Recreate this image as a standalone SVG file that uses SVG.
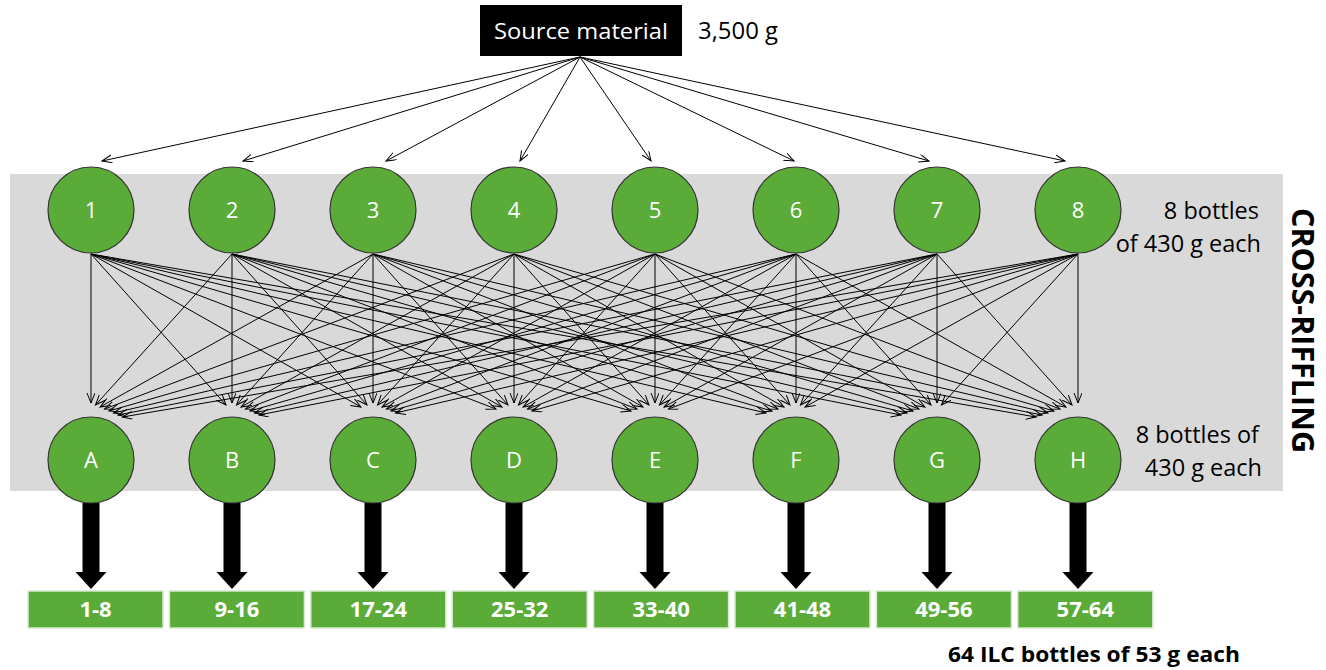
<svg xmlns="http://www.w3.org/2000/svg" width="1326" height="670" viewBox="0 0 1326 670">
<defs>
<style>
.bg{fill:#d9d9d9}
.node{fill:#5aab37;stroke:#333;stroke-width:1.2}
.lbl{font-family:"Open Sans","Liberation Sans",sans-serif;font-size:22px;fill:#fff;text-anchor:middle}
.txt{font-family:"Open Sans","Liberation Sans",sans-serif;font-size:23.5px;fill:#000}
.box{fill:#5aab37;stroke:#d6ebcb;stroke-width:1.5}
.boxt{font-family:"Open Sans","Liberation Sans",sans-serif;font-size:22px;font-weight:bold;fill:#fff;text-anchor:middle}
.bold{font-family:"Open Sans","Liberation Sans",sans-serif;font-weight:bold;fill:#000}
.c{fill:none;stroke:#000;stroke-width:1}
.thick{fill:#000}
</style>
<marker id="ah" markerUnits="userSpaceOnUse" markerWidth="12" markerHeight="10" refX="10" refY="4" orient="auto">
<path d="M0,0 L10,4 L0,8" fill="none" stroke="#000" stroke-width="1"/>
</marker>
<path id="big" d="M-8.5,0 H8.5 V69 H15.5 L0,86 L-15.5,69 H-8.5 Z"/>
</defs>
<rect class="bg" x="10" y="174" width="1273" height="317"/>

<g id="connectors">
<g id="from-source" marker-end="url(#ah)">
<path class="c" d="M580,57 L102,161"/>
<path class="c" d="M580,57 L243,161"/>
<path class="c" d="M580,57 L386,161"/>
<path class="c" d="M580,57 L520,161"/>
<path class="c" d="M580,57 L651,161"/>
<path class="c" d="M580,57 L794,161"/>
<path class="c" d="M580,57 L929,161"/>
<path class="c" d="M580,57 L1065,161"/>
</g>
<g id="riffle" marker-end="url(#ah)">
<path class="c" d="M91,254 L91,403"/>
<path class="c" d="M232,254 L95.5,405"/>
<path class="c" d="M373,254 L100,407"/>
<path class="c" d="M514,254 L104.5,409"/>
<path class="c" d="M655,254 L109,411"/>
<path class="c" d="M796,254 L113.5,413"/>
<path class="c" d="M937,254 L118,415"/>
<path class="c" d="M1078,254 L122.5,417"/>

<path class="c" d="M91,254 L226,405"/>
<path class="c" d="M232,254 L232,403"/>
<path class="c" d="M373,254 L236.5,405"/>
<path class="c" d="M514,254 L241,407"/>
<path class="c" d="M655,254 L245.5,409"/>
<path class="c" d="M796,254 L250,411"/>
<path class="c" d="M937,254 L254.5,413"/>
<path class="c" d="M1078,254 L259,415"/>

<path class="c" d="M91,254 L361,407"/>
<path class="c" d="M232,254 L367,405"/>
<path class="c" d="M373,254 L373,403"/>
<path class="c" d="M514,254 L377.5,405"/>
<path class="c" d="M655,254 L382,407"/>
<path class="c" d="M796,254 L386.5,409"/>
<path class="c" d="M937,254 L391,411"/>
<path class="c" d="M1078,254 L395.5,413"/>

<path class="c" d="M91,254 L496,409"/>
<path class="c" d="M232,254 L502,407"/>
<path class="c" d="M373,254 L508,405"/>
<path class="c" d="M514,254 L514,403"/>
<path class="c" d="M655,254 L518.5,405"/>
<path class="c" d="M796,254 L523,407"/>
<path class="c" d="M937,254 L527.5,409"/>
<path class="c" d="M1078,254 L532,411"/>

<path class="c" d="M91,254 L631,411"/>
<path class="c" d="M232,254 L637,409"/>
<path class="c" d="M373,254 L643,407"/>
<path class="c" d="M514,254 L649,405"/>
<path class="c" d="M655,254 L655,403"/>
<path class="c" d="M796,254 L659.5,405"/>
<path class="c" d="M937,254 L664,407"/>
<path class="c" d="M1078,254 L668.5,409"/>

<path class="c" d="M91,254 L766,413"/>
<path class="c" d="M232,254 L772,411"/>
<path class="c" d="M373,254 L778,409"/>
<path class="c" d="M514,254 L784,407"/>
<path class="c" d="M655,254 L790,405"/>
<path class="c" d="M796,254 L796,403"/>
<path class="c" d="M937,254 L800.5,405"/>
<path class="c" d="M1078,254 L805,407"/>

<path class="c" d="M91,254 L901,415"/>
<path class="c" d="M232,254 L907,413"/>
<path class="c" d="M373,254 L913,411"/>
<path class="c" d="M514,254 L919,409"/>
<path class="c" d="M655,254 L925,407"/>
<path class="c" d="M796,254 L931,405"/>
<path class="c" d="M937,254 L937,403"/>
<path class="c" d="M1078,254 L941.5,405"/>

<path class="c" d="M91,254 L1036,417"/>
<path class="c" d="M232,254 L1042,415"/>
<path class="c" d="M373,254 L1048,413"/>
<path class="c" d="M514,254 L1054,411"/>
<path class="c" d="M655,254 L1060,409"/>
<path class="c" d="M796,254 L1066,407"/>
<path class="c" d="M937,254 L1072,405"/>
<path class="c" d="M1078,254 L1078,403"/>
</g>
<g id="to-ilc" class="thick">
<use href="#big" x="91" y="503"/>
<use href="#big" x="232" y="503"/>
<use href="#big" x="373" y="503"/>
<use href="#big" x="514" y="503"/>
<use href="#big" x="655" y="503"/>
<use href="#big" x="796" y="503"/>
<use href="#big" x="937" y="503"/>
<use href="#big" x="1078" y="503"/>
</g>
</g>

<g id="source">
<rect x="480" y="5" width="202" height="51" fill="#000"/>
<text class="lbl" x="581" y="39" font-size="24" textLength="174" lengthAdjust="spacingAndGlyphs">Source material</text>
<text class="txt" x="698" y="39" font-size="24" textLength="80" lengthAdjust="spacingAndGlyphs">3,500 g</text>
</g>

<g id="n1"><circle class="node" cx="91" cy="210" r="43"/><text class="lbl" x="91" y="218">1</text></g>
<g id="n2"><circle class="node" cx="232" cy="210" r="43"/><text class="lbl" x="232" y="218">2</text></g>
<g id="n3"><circle class="node" cx="373" cy="210" r="43"/><text class="lbl" x="373" y="218">3</text></g>
<g id="n4"><circle class="node" cx="514" cy="210" r="43"/><text class="lbl" x="514" y="218">4</text></g>
<g id="n5"><circle class="node" cx="655" cy="210" r="43"/><text class="lbl" x="655" y="218">5</text></g>
<g id="n6"><circle class="node" cx="796" cy="210" r="43"/><text class="lbl" x="796" y="218">6</text></g>
<g id="n7"><circle class="node" cx="937" cy="210" r="43"/><text class="lbl" x="937" y="218">7</text></g>
<g id="n8"><circle class="node" cx="1078" cy="210" r="43"/><text class="lbl" x="1078" y="218">8</text></g>

<g id="nA"><circle class="node" cx="91" cy="460" r="43"/><text class="lbl" x="91" y="468">A</text></g>
<g id="nB"><circle class="node" cx="232" cy="460" r="43"/><text class="lbl" x="232" y="468">B</text></g>
<g id="nC"><circle class="node" cx="373" cy="460" r="43"/><text class="lbl" x="373" y="468">C</text></g>
<g id="nD"><circle class="node" cx="514" cy="460" r="43"/><text class="lbl" x="514" y="468">D</text></g>
<g id="nE"><circle class="node" cx="655" cy="460" r="43"/><text class="lbl" x="655" y="468">E</text></g>
<g id="nF"><circle class="node" cx="796" cy="460" r="43"/><text class="lbl" x="796" y="468">F</text></g>
<g id="nG"><circle class="node" cx="937" cy="460" r="43"/><text class="lbl" x="937" y="468">G</text></g>
<g id="nH"><circle class="node" cx="1078" cy="460" r="43"/><text class="lbl" x="1078" y="468">H</text></g>

<g id="b1"><rect class="box" x="28" y="591" width="135" height="37"/><text class="boxt" x="95.5" y="617">1-8</text></g>
<g id="b2"><rect class="box" x="169.4" y="591" width="135" height="37"/><text class="boxt" x="236.9" y="617">9-16</text></g>
<g id="b3"><rect class="box" x="310.8" y="591" width="135" height="37"/><text class="boxt" x="378.3" y="617">17-24</text></g>
<g id="b4"><rect class="box" x="452.2" y="591" width="135" height="37"/><text class="boxt" x="519.7" y="617">25-32</text></g>
<g id="b5"><rect class="box" x="593.6" y="591" width="135" height="37"/><text class="boxt" x="661.1" y="617">33-40</text></g>
<g id="b6"><rect class="box" x="735" y="591" width="135" height="37"/><text class="boxt" x="802.5" y="617">41-48</text></g>
<g id="b7"><rect class="box" x="876.4" y="591" width="135" height="37"/><text class="boxt" x="943.9" y="617">49-56</text></g>
<g id="b8"><rect class="box" x="1017.8" y="591" width="135" height="37"/><text class="boxt" x="1085.3" y="617">57-64</text></g>

<g id="labels">
<text class="txt" x="1259" y="219" text-anchor="end">8 bottles</text>
<text class="txt" x="1261" y="252" text-anchor="end">of 430 g each</text>
<text class="txt" x="1259" y="443" text-anchor="end">8 bottles of</text>
<text class="txt" x="1262" y="476" text-anchor="end">430 g each</text>
<text class="bold" x="1292" y="208" font-size="30" transform="rotate(90 1292 208)" textLength="245" lengthAdjust="spacingAndGlyphs">CROSS-RIFFLING</text>
<text class="bold" x="948" y="662" font-size="22" textLength="292" lengthAdjust="spacingAndGlyphs">64 ILC bottles of 53 g each</text>
</g>
</svg>
